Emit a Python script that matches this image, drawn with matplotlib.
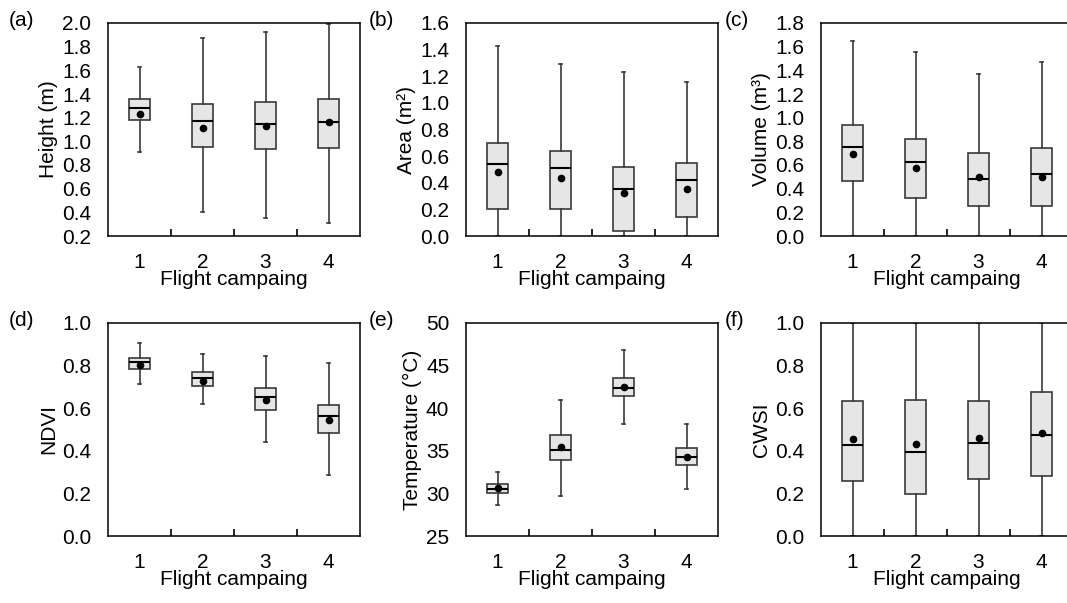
import numpy as np
import matplotlib
matplotlib.use('Agg')
import matplotlib.pyplot as plt

plt.rcParams['font.family'] = ['Liberation Sans', 'DejaVu Sans']
plt.rcParams['font.size'] = 15

campaigns = [1, 2, 3, 4]

# per panel: whisker low, Q1, median, Q3, whisker high, mean
height_lo = [0.91, 0.40, 0.35, 0.31]
height_q1 = [1.18, 0.955, 0.935, 0.94]
height_med = [1.28, 1.17, 1.15, 1.165]
height_q3 = [1.356, 1.316, 1.333, 1.361]
height_hi = [1.627, 1.873, 1.921, 1.99]
height_mean = [1.234, 1.116, 1.13, 1.166]

area_lo = [0.0, 0.0, 0.0, 0.0]
area_q1 = [0.20, 0.205, 0.035, 0.14]
area_med = [0.54, 0.51, 0.355, 0.42]
area_q3 = [0.70, 0.64, 0.52, 0.55]
area_hi = [1.43, 1.29, 1.235, 1.155]
area_mean = [0.48, 0.435, 0.32, 0.355]

vol_lo = [0.0, 0.0, 0.0, 0.0]
vol_q1 = [0.466, 0.325, 0.25, 0.25]
vol_med = [0.752, 0.625, 0.48, 0.528]
vol_q3 = [0.94, 0.82, 0.70, 0.74]
vol_hi = [1.645, 1.554, 1.37, 1.47]
vol_mean = [0.69, 0.577, 0.497, 0.497]

ndvi_lo = [0.713, 0.62, 0.441, 0.287]
ndvi_q1 = [0.785, 0.706, 0.592, 0.484]
ndvi_med = [0.815, 0.743, 0.653, 0.562]
ndvi_q3 = [0.837, 0.768, 0.694, 0.615]
ndvi_hi = [0.906, 0.853, 0.843, 0.81]
ndvi_mean = [0.802, 0.727, 0.637, 0.545]

temp_lo = [28.6, 29.7, 38.2, 30.5]
temp_q1 = [30.0, 33.9, 41.4, 33.3]
temp_med = [30.57, 35.15, 42.4, 34.3]
temp_q3 = [31.1, 36.8, 43.6, 35.3]
temp_hi = [32.55, 41.0, 46.8, 38.2]
temp_mean = [30.6, 35.4, 42.5, 34.3]

cwsi_lo = [0.0, 0.0, 0.0, 0.0]
cwsi_q1 = [0.257, 0.198, 0.267, 0.281]
cwsi_med = [0.427, 0.394, 0.438, 0.476]
cwsi_q3 = [0.636, 0.637, 0.636, 0.675]
cwsi_hi = [1.0, 1.0, 1.0, 1.0]
cwsi_mean = [0.457, 0.432, 0.46, 0.482]

panels = [
    ('(a)', 'Height (m)', (0.2, 2.0), np.arange(0.2, 2.01, 0.2), '%.1f',
     height_lo, height_q1, height_med, height_q3, height_hi, height_mean),
    ('(b)', 'Area (m²)', (0.0, 1.6), np.arange(0.0, 1.61, 0.2), '%.1f',
     area_lo, area_q1, area_med, area_q3, area_hi, area_mean),
    ('(c)', 'Volume (m³)', (0.0, 1.8), np.arange(0.0, 1.81, 0.2), '%.1f',
     vol_lo, vol_q1, vol_med, vol_q3, vol_hi, vol_mean),
    ('(d)', 'NDVI', (0.0, 1.0), np.arange(0.0, 1.01, 0.2), '%.1f',
     ndvi_lo, ndvi_q1, ndvi_med, ndvi_q3, ndvi_hi, ndvi_mean),
    ('(e)', 'Temperature (°C)', (25, 50), np.arange(25, 51, 5), '%d',
     temp_lo, temp_q1, temp_med, temp_q3, temp_hi, temp_mean),
    ('(f)', 'CWSI', (0.0, 1.0), np.arange(0.0, 1.01, 0.2), '%.1f',
     cwsi_lo, cwsi_q1, cwsi_med, cwsi_q3, cwsi_hi, cwsi_mean),
]

W, H = 1067, 603
fig = plt.figure(figsize=(W / 100, H / 100), dpi=100)

lefts = [108, 466, 821]
width = 252
tops = [23, 323]
height = 213
label_x = [9, 369, 725]
label_y = [11, 311]

for k, (tag, ylab, ylim, yt, fmt, lo, q1, med, q3, hi, mean) in enumerate(panels):
    r, c = divmod(k, 3)
    ax = fig.add_axes([lefts[c] / W, 1 - (tops[r] + height) / H, width / W, height / H])
    stats = []
    for i in range(4):
        stats.append(dict(whislo=lo[i], q1=q1[i], med=med[i], q3=q3[i],
                          whishi=hi[i], mean=mean[i], fliers=[]))
    ax.bxp(stats, positions=campaigns, widths=0.33, capwidths=0.06,
           showmeans=True, patch_artist=True,
           boxprops=dict(facecolor='#e6e6e6', edgecolor='#3a3a3a', linewidth=1.2),
           whiskerprops=dict(color='#3a3a3a', linewidth=1.2),
           capprops=dict(color='#3a3a3a', linewidth=1.2),
           medianprops=dict(color='black', linewidth=1.5),
           meanprops=dict(marker='o', markerfacecolor='black', markeredgecolor='black',
                          markersize=4.5))
    ax.set_xlim(0.5, 4.5)
    ax.set_ylim(*ylim)
    ax.set_yticks(yt)
    ax.set_yticklabels([fmt % v for v in yt])
    ax.set_xticks(campaigns)
    ax.set_xticklabels([str(v) for v in campaigns])
    ax.set_xticks([1.5, 2.5, 3.5], minor=True)
    ax.tick_params(which='major', axis='y', length=0, pad=12)
    ax.tick_params(which='major', axis='x', length=0, pad=12)
    ax.tick_params(which='minor', axis='x', direction='in', length=5, width=1.2)
    for s in ax.spines.values():
        s.set_linewidth(1.1)
    ax.set_xlabel('Flight campaing', labelpad=-1)
    ax.set_ylabel(ylab, labelpad=3)
    fig.text(label_x[c] / W, 1 - label_y[r] / H, tag, ha='left', va='top')

fig.savefig('out.png', dpi=100)
